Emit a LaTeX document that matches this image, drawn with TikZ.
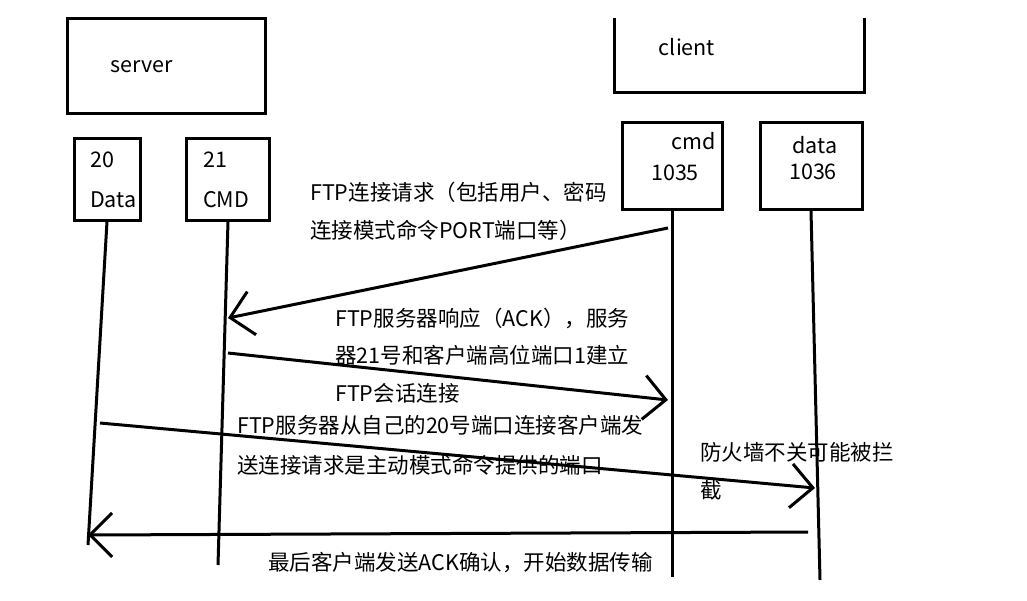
\documentclass[tikz,border=0pt]{standalone}
\usepackage{fontspec}
\setmainfont{Noto Sans CJK SC}
\usetikzlibrary{arrows.meta}
\begin{document}
\begin{tikzpicture}[x=1pt,y=-1pt,
  box/.style={draw,line width=3pt},
  life/.style={line width=3pt},
  msg/.style={line width=3pt,-{Straight Barb[length=22pt,width=44pt,line width=3pt]}},
  lbl/.style={anchor=west,font=\fontsize{21.5}{24}\selectfont,inner sep=0pt},
  bl/.style={font=\fontsize{21.5}{24}\selectfont,inner sep=0pt}]
\useasboundingbox[fill=white] (0,0) rectangle (1027,600);
% top boxes
\draw[box] (67,18) rectangle (265,113);
\node[bl] (srv) at (142,67) {server};
\draw[box] (614,18) -- (614,92) -- (864,92) -- (864,18);
\node[bl] (cli) at (687,47) {client};
% port boxes
\node[box,minimum width=66pt,minimum height=82pt] (d20) at (107,179) {};
\node[bl,anchor=west] at (90,160) {20};
\node[bl,anchor=west] at (90,200) {Data};
\node[box,minimum width=83pt,minimum height=82pt] (c21) at (228,179) {};
\node[bl,anchor=west] at (203,160) {21};
\node[bl,anchor=west] at (203,200) {CMD};
\node[box,minimum width=100pt,minimum height=87pt] (c35) at (672,166) {};
\node[bl] at (694,141) {cmd};
\node[bl] at (675,173) {1035};
\node[box,minimum width=102pt,minimum height=87pt] (d36) at (811,166) {};
\node[bl] at (815,145) {data};
\node[bl] at (813,172) {1036};
% lifelines
\coordinate (l20e) at (88,545);
\coordinate (l21e) at (218,565);
\coordinate (l35e) at (672,577);
\coordinate (l36e) at (820,580);
\draw[life] (d20.south) -- (l20e);
\draw[life] (c21.south) -- (l21e);
\draw[life] (c35.south) -- (l35e);
\draw[life] (d36.south) -- (l36e);
% messages
\coordinate (a1s) at (668,228); \coordinate (a1e) at (228,318);
\coordinate (a2s) at (228,353); \coordinate (a2e) at (668,400);
\coordinate (a3s) at (100,423); \coordinate (a3e) at (815,488);
\coordinate (a4s) at (808,532); \coordinate (a4e) at (88,535);
\draw[msg] (a1s) -- (a1e);
\draw[msg] (a2s) -- (a2e);
\draw[msg] (a3s) -- (a3e);
\draw[msg] (a4s) -- (a4e);
% labels
\node[lbl] (t1) at (310,192) {FTP连接请求（包括用户、密码};
\node[lbl] (t1b) at (310,230) {连接模式命令PORT端口等）};
\node[lbl] (t2) at (335,318) {FTP服务器响应（ACK），服务};
\node[lbl] (t2b) at (335,355) {器21号和客户端高位端口1建立};
\node[lbl] (t2c) at (335,393) {FTP会话连接};
\node[lbl] (t3) at (237,425) {FTP服务器从自己的20号端口连接客户端发};
\node[lbl] (t3b) at (237,465) {送连接请求是主动模式命令提供的端口};
\node[lbl] (t4) at (700,452) {防火墙不关可能被拦};
\node[lbl] (t4b) at (700,490) {截};
\node[lbl] (t5) at (268,563) {最后客户端发送ACK确认，开始数据传输};
\end{tikzpicture}
\end{document}
